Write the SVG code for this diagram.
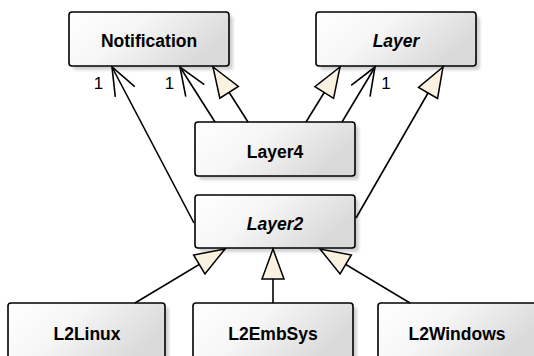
<svg xmlns="http://www.w3.org/2000/svg" width="534" height="356" viewBox="0 0 534 356">
<style>
.box{fill:url(#g);stroke:#000;stroke-width:1.6}
.sh{fill:#000;opacity:0.18;filter:url(#blur)}
.t{font-family:"Liberation Sans",Arial,sans-serif;font-weight:bold;font-size:17.5px;text-anchor:middle;fill:#000}
.i{font-style:italic}
.m{font-family:"Liberation Sans",Arial,sans-serif;font-size:17px;text-anchor:middle;fill:#000}
.c{stroke:#000;stroke-width:1.6;fill:none}
.gen{marker-end:url(#tri)}
.asc{marker-end:url(#open)}
</style>
<defs>
<linearGradient id="g" x1="0" y1="0" x2="1" y2="0.4">
<stop offset="0" stop-color="#ffffff"/>
<stop offset="0.45" stop-color="#f6f6f6"/>
<stop offset="1" stop-color="#dadada"/>
</linearGradient>
<filter id="blur" x="-10%" y="-10%" width="120%" height="130%"><feGaussianBlur stdDeviation="1.5"/></filter>
<marker id="tri" markerUnits="userSpaceOnUse" viewBox="-33 -14 36 28" refX="0" refY="0" markerWidth="36" markerHeight="28" orient="auto">
<path d="M0,0 L-30,-11 L-30,11 Z" fill="#fbf1e1" stroke="#000" stroke-width="1.5" stroke-linejoin="miter"/>
</marker>
<marker id="open" markerUnits="userSpaceOnUse" viewBox="-33 -14 36 28" refX="0" refY="0" markerWidth="36" markerHeight="28" orient="auto">
<path d="M-28,-11 L0,0 L-28,11" fill="none" stroke="#000" stroke-width="1.6"/>
</marker>
</defs>

<g id="Notification">
<rect class="sh" x="73" y="16" width="160" height="54" rx="3"/>
<rect class="box" x="69" y="12" width="160" height="54" rx="3"/>
<text class="t" x="149" y="47">Notification</text>
</g>
<g id="Layer">
<rect class="sh" x="320" y="16" width="160" height="54" rx="3"/>
<rect class="box" x="316" y="12" width="160" height="54" rx="3"/>
<text class="t i" x="396" y="47">Layer</text>
</g>
<g id="Layer4">
<rect class="sh" x="199" y="126" width="160" height="54" rx="3"/>
<rect class="box" x="195" y="122" width="160" height="54" rx="3"/>
<text class="t" x="275" y="158">Layer4</text>
</g>
<g id="Layer2">
<rect class="sh" x="199" y="199" width="160" height="53" rx="3"/>
<rect class="box" x="195" y="195" width="160" height="53" rx="3"/>
<text class="t i" x="275" y="230">Layer2</text>
</g>
<g id="L2Linux">
<rect class="sh" x="12" y="307" width="157" height="60" rx="3"/>
<rect class="box" x="8" y="303" width="157" height="60" rx="3"/>
<text class="t" x="87" y="340">L2Linux</text>
</g>
<g id="L2EmbSys">
<rect class="sh" x="197" y="307" width="160" height="60" rx="3"/>
<rect class="box" x="193" y="303" width="160" height="60" rx="3"/>
<text class="t" x="273" y="340">L2EmbSys</text>
</g>
<g id="L2Windows">
<rect class="sh" x="382" y="307" width="160" height="60" rx="3"/>
<rect class="box" x="378" y="303" width="160" height="60" rx="3"/>
<text class="t" x="457" y="340">L2Windows</text>
</g>

<g id="connectors">
<line class="c asc" x1="194" y1="223" x2="112" y2="67"/>
<line class="c asc" x1="215" y1="122" x2="180" y2="67"/>
<line class="c gen" x1="248" y1="122" x2="213" y2="67"/>
<line class="c gen" x1="306" y1="122" x2="340" y2="67"/>
<line class="c asc" x1="342" y1="122" x2="375" y2="67"/>
<line class="c gen" x1="356" y1="218" x2="443" y2="67"/>
<line class="c gen" x1="135" y1="303" x2="225" y2="249"/>
<line class="c gen" x1="273" y1="303" x2="273" y2="249"/>
<line class="c gen" x1="410" y1="303" x2="320" y2="249"/>
<text class="m" x="98.5" y="89">1</text>
<text class="m" x="169.5" y="89">1</text>
<text class="m" x="386" y="89">1</text>
</g>
</svg>
